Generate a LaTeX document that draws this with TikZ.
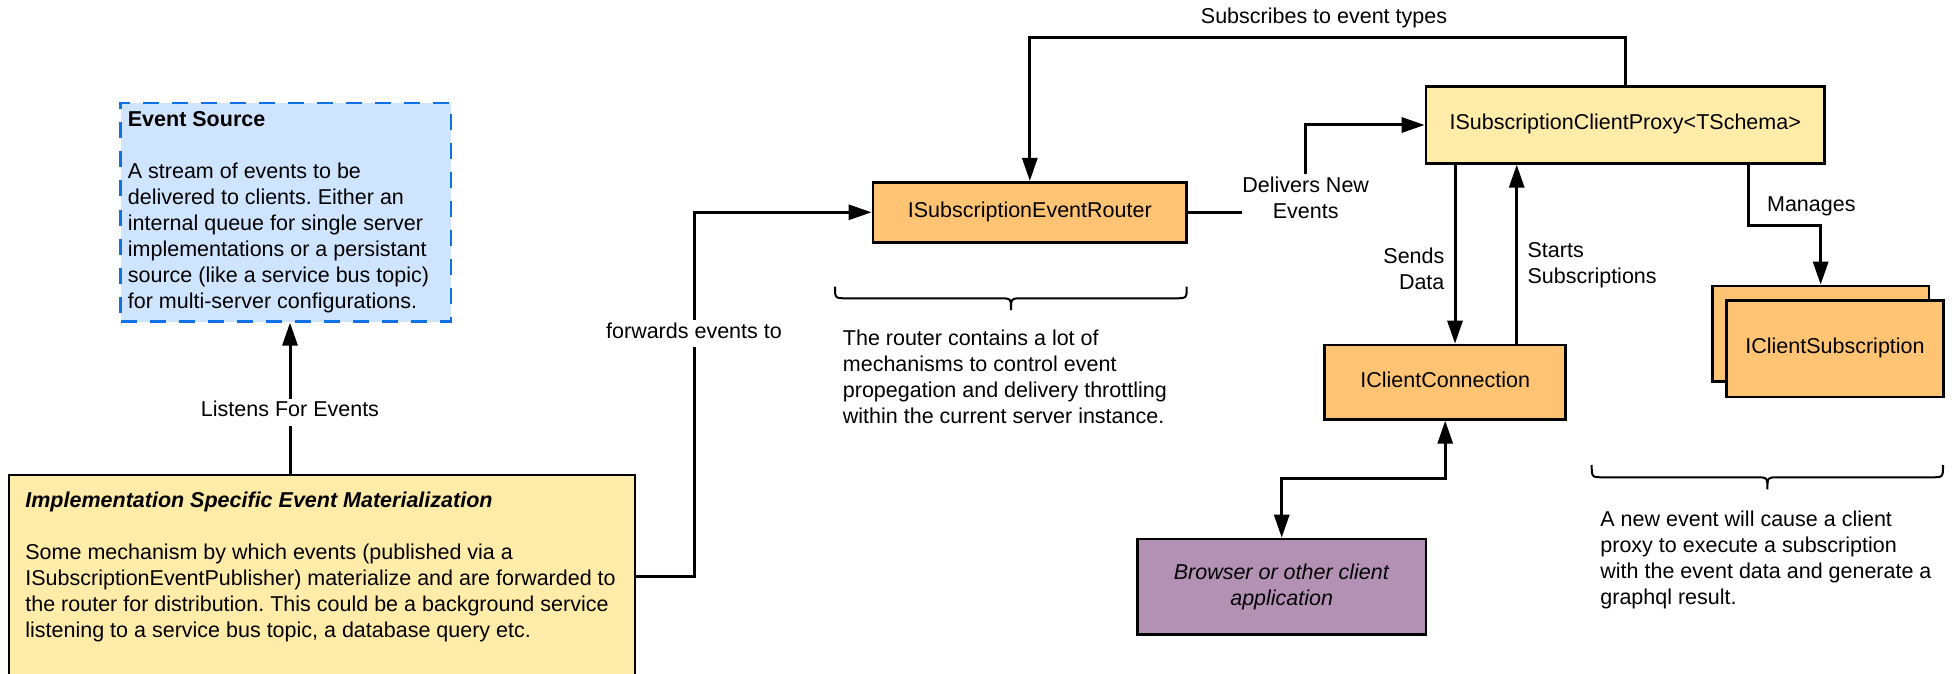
\documentclass[tikz,border=0pt]{standalone}
\usepackage{fontspec}
\setmainfont{Liberation Sans}
\usetikzlibrary{arrows.meta,calc}
\frenchspacing

\definecolor{paleyellow}{HTML}{FFECA9}
\definecolor{orangefill}{HTML}{FFC374}
\definecolor{skyfill}{HTML}{CFE4FF}
\definecolor{skyline}{HTML}{1071E5}
\definecolor{plumfill}{HTML}{B391B5}

\begin{document}
\begin{tikzpicture}[x=0.5pt,y=-0.5pt,
  every node/.style={font=\fontsize{10.75}{13}\selectfont},
  box/.style={draw=black, line width=1.35pt, inner sep=0pt, anchor=center},
  oneline/.style={text height=7.6pt, text depth=2.6pt},
  link/.style={line width=1.5pt},
  arr/.style={link, -{Triangle[length=11.5pt,width=7.5pt]}},
  biarr/.style={link, {Triangle[length=11.5pt,width=7.5pt]}-{Triangle[length=11.5pt,width=7.5pt]}},
  lbl/.style={fill=white, inner sep=0pt, text height=9.1pt, text depth=4.5pt},
  note/.style={inner sep=0pt, anchor=north west, align=left},
  bracepath/.style={line width=1pt}]

\useasboundingbox (0,0) rectangle (1960,674);
\clip (0,0) rectangle (1960,674);

% ---------- boxes ----------
\node[box, draw=skyline, line width=1.1pt, dash pattern=on 8pt off 6.5pt, fill=skyfill,
      minimum width=165.25pt, minimum height=109.25pt] (es) at (285.75,212.25) {};
\node[box, fill=paleyellow, minimum width=313pt, minimum height=112.5pt] (impl) at (322,587.5) {};
\node[box, oneline, fill=orangefill, minimum width=156.85pt, minimum height=30pt] (router) at (1029.8,212.3) {ISubscriptionEventRouter};
\node[box, oneline, fill=paleyellow, minimum width=199.15pt, minimum height=38.3pt] (proxy) at (1625.2,125) {ISubscriptionClientProxy<TSchema>};
\node[box, oneline, fill=orangefill, minimum width=120.5pt, minimum height=37.15pt] (cnx) at (1445.2,382.2) {IClientConnection};
\node[box, fill=orangefill, minimum width=108.35pt, minimum height=47.85pt] (subback) at (1820.65,333.85) {};
\node[box, oneline, fill=orangefill, minimum width=108.3pt, minimum height=48.15pt] (sub) at (1835,348.85) {IClientSubscription};
\node[box, fill=plumfill, align=center, minimum width=144.35pt, minimum height=47.85pt] (browser) at (1281.7,586.9) {\textit{Browser or other client}\\\textit{application}};

% ---------- box texts ----------
\node[note] (estext) at (127.5,107.8) {\strut\textbf{Event Source}\\[13pt]A stream of events to be\\delivered to clients. Either an\\internal queue for single server\\implementations or a persistant\\source (like a service bus topic)\\for multi-server configurations.};
\node[note] (impltext) at (25,488.5) {\strut\textbf{\textit{Implementation Specific Event Materialization}}\\[13pt]Some mechanism by which events (published via a\\ISubscriptionEventPublisher) materialize and are forwarded to\\the router for distribution. This could be a background service\\listening to a service bus topic, a database query etc.};

% ---------- braces and notes ----------
\draw[bracepath] (835,286.7) .. controls (835,298.3) .. (847,298.3) -- (999,298.3)
  .. controls (1011,298.3) .. (1011,310) .. controls (1011,298.3) .. (1023,298.3)
  -- (1174.7,298.3) .. controls (1186.7,298.3) .. (1186.7,286.7);
\node[note] (routernote) at (842.5,326.8) {\strut The router contains a lot of\\mechanisms to control event\\propegation and delivery throttling\\within the current server instance.};

\draw[bracepath] (1591.7,465) .. controls (1591.7,477.3) .. (1603.7,477.3) -- (1755.4,477.3)
  .. controls (1767.4,477.3) .. (1767.4,489.3) .. controls (1767.4,477.3) .. (1779.4,477.3)
  -- (1931,477.3) .. controls (1943,477.3) .. (1943,465);
\node[note] (clientnote) at (1600,507.5) {\strut A new event will cause a client\\proxy to execute a subscription\\with the event data and generate a\\graphql result.};

% ---------- connectors ----------
\coordinate (lx) at (290,0);
\coordinate (fx) at (694,0);
\coordinate (fy) at (0,576);
\coordinate (sy) at (0,37.7);
\coordinate (dx) at (1305.7,0);
\coordinate (sx) at (1455,0);
\coordinate (tx) at (1516.7,0);
\coordinate (mx) at (1748.3,225);
\coordinate (cy) at (0,478.7);

\draw[arr] (lx |- impl.north) -- (lx |- es.south);
\draw[arr] (impl.east |- fy) -| (fx |- router.west) -- (router.west);
\draw[arr] (proxy.north) -- (proxy.north |- sy) -| (router.north);
\draw[arr] (router.east) -| (dx |- proxy.west) -- (proxy.west);
\draw[arr] (sx |- proxy.south) -- (sx |- cnx.north);
\draw[arr] (tx |- cnx.north) -- (tx |- proxy.south);
\draw[arr] (mx |- proxy.south) -- (mx) -| (subback.north);
\draw[biarr] (cnx.south) -- (cnx.south |- cy) -| (browser.north);

% ---------- connector labels ----------
\node[anchor=base, inner sep=0pt] (subslbl) at (1324,24) {Subscribes to event types};
\node[lbl, anchor=base] (fwdlbl) at (694,338.3) {forwards events to};
\node[lbl, anchor=base] (listenlbl) at (290,416.7) {Listens For Events};
\node[fill=white, inner sep=0pt, align=center, anchor=north] (dellbl) at (1305.7,173.4) {\strut Delivers New\\Events};
\node[inner sep=0pt, align=right, anchor=north east] (sendlbl) at (1444.8,244.5) {\strut Sends\\Data};
\node[note] (startlbl) at (1527.2,239.1) {\strut Starts\\Subscriptions};
\node[anchor=base west, inner sep=0pt] (manlbl) at (1766.7,211.7) {Manages};
\end{tikzpicture}
\end{document}
